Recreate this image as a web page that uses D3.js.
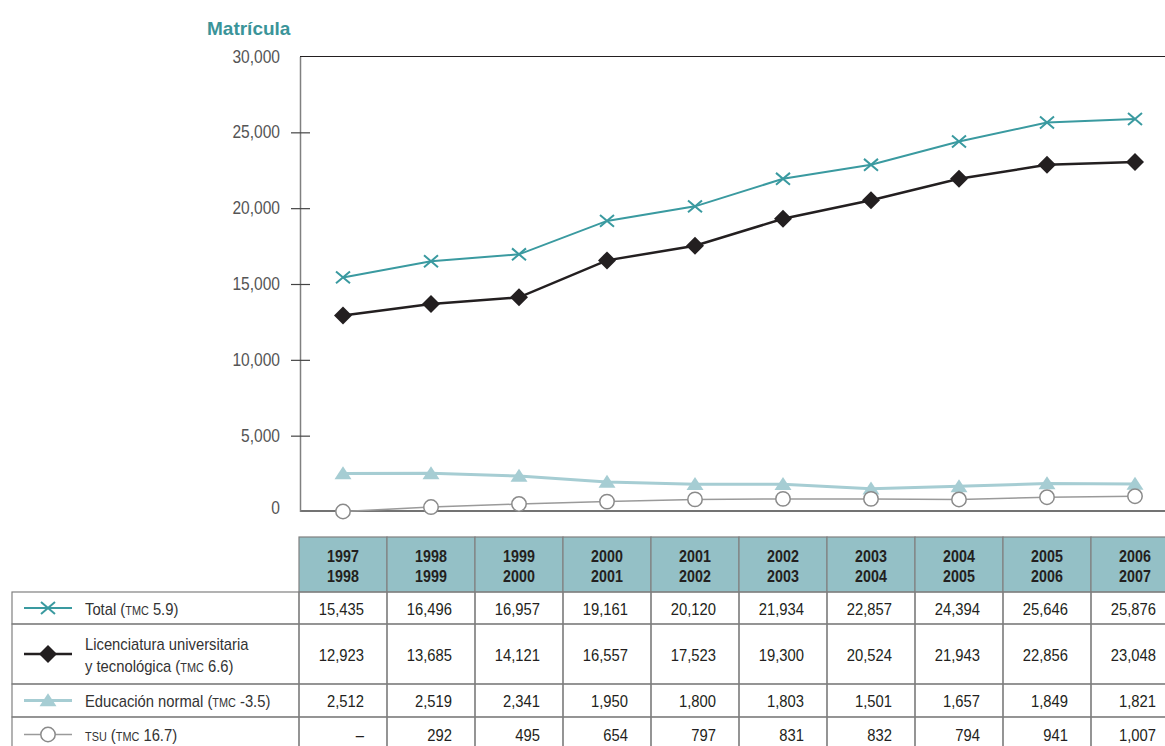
<!DOCTYPE html>
<html>
<head>
<meta charset="utf-8">
<script src="https://cdn.jsdelivr.net/npm/d3@7"></script>
<style>
  html, body { margin: 0; padding: 0; background: #fff; }
  svg { display: block; }
  text { font-family: "Liberation Sans", Arial, Helvetica, sans-serif; }
</style>
</head>
<body>
<svg id="chart" width="1165" height="746"></svg>
<script>
// School years shown on the horizontal axis / table header
const periods = ["1997-1998","1998-1999","1999-2000","2000-2001","2001-2002",
                 "2002-2003","2003-2004","2004-2005","2005-2006","2006-2007"];

// Enrolment by level
const total        = [15435, 16496, 16957, 19161, 20120, 21934, 22857, 24394, 25646, 25876];
const licenciatura = [12923, 13685, 14121, 16557, 17523, 19300, 20524, 21943, 22856, 23048];
const normal       = [2512, 2519, 2341, 1950, 1800, 1803, 1501, 1657, 1849, 1821];
const tsu          = [null, 292, 495, 654, 797, 831, 832, 794, 941, 1007];

const yTicks = [0, 5000, 10000, 15000, 20000, 25000, 30000];

const series = [
  { key: "total", values: total, labelLines: [["Total (", ["TMC"], " 5.9)"]],
    color: "#3a9aa0", width: 2, marker: "cross" },
  { key: "lic", values: licenciatura,
    labelLines: [["Licenciatura universitaria"], ["y tecnológica (", ["TMC"], " 6.6)"]],
    color: "#231f20", width: 2.5, marker: "diamond" },
  { key: "normal", values: normal, labelLines: [["Educación normal (", ["TMC"], " -3.5)"]],
    color: "#a6cdd3", width: 3, marker: "triangle" },
  { key: "tsu", values: tsu, labelLines: [[["TSU"], " (", ["TMC"], " 16.7)"]],
    color: "#9a9a9a", width: 1.5, marker: "circle" }
];

const svg = d3.select("#chart");
const fmt = d3.format(",");
const NARROW = 0.87;   // horizontal squeeze for the condensed typeface look

const x = d3.scaleBand().domain(periods).range([299, 299 + 88 * periods.length]).padding(0);
const y = d3.scaleLinear().domain([0, 30000]).range([511.5, 56.5]);
const cx = d => x(d) + x.bandwidth() / 2;

const plotLeft = 300, plotRight = 1165;

// Text placed in a horizontally condensed group
function narrowText(parent, tx, ty, opts = {}) {
  const g = parent.append("g")
    .attr("transform", `translate(${tx},${ty}) scale(${opts.squeeze ?? NARROW},1)`);
  return g.append("text").attr("x", 0).attr("y", 0)
    .attr("text-anchor", opts.anchor ?? "start")
    .attr("font-size", opts.size ?? 17)
    .attr("font-weight", opts.weight ?? "normal")
    .attr("fill", opts.fill ?? "#231f20");
}

// Title
svg.append("text")
  .attr("x", 207).attr("y", 35)
  .attr("font-size", 19).attr("font-weight", "bold")
  .attr("fill", "#3a9499")
  .text("Matrícula");

// Frame: top rule and base line
svg.append("line").attr("x1", plotLeft).attr("x2", plotRight)
  .attr("y1", y(30000)).attr("y2", y(30000))
  .attr("stroke", "#231f20").attr("stroke-width", 1);
svg.append("line").attr("x1", plotLeft).attr("x2", plotRight)
  .attr("y1", y(0) - 0.5).attr("y2", y(0) - 0.5)
  .attr("stroke", "#444").attr("stroke-width", 1.5);

// Y axis built with d3.axisLeft; ticks cross the axis line
const yAxis = d3.axisLeft(y).tickValues(yTicks).tickFormat(fmt).tickSize(0).tickPadding(20);
const gy = svg.append("g").attr("transform", `translate(${plotLeft},0)`).call(yAxis);
gy.select(".domain").attr("stroke", "#808080").attr("stroke-width", 1.5);
gy.selectAll(".tick text")
  .attr("fill", "#555").attr("font-size", 17.5)
  .style("font-family", "'Liberation Sans', Arial, sans-serif")
  .attr("x", -20 / 0.89)
  .attr("transform", "scale(0.89,1)");
gy.selectAll(".tick").filter(d => d > 0 && d < 30000)
  .append("line").attr("x1", -9).attr("x2", 10)
  .attr("stroke", "#444").attr("stroke-width", 1.2);
gy.selectAll(".tick").filter(d => d === 0).select("text").attr("dy", "0.1em");

// Markers
function drawMarker(g, type, color, px, py) {
  if (type === "cross") {
    const s = 7;
    g.append("path")
      .attr("d", `M${px - s},${py - s * 0.85}L${px + s},${py + s * 0.85}M${px - s},${py + s * 0.85}L${px + s},${py - s * 0.85}`)
      .attr("stroke", color).attr("stroke-width", 2).attr("fill", "none");
  } else if (type === "diamond") {
    const s = 9;
    g.append("path")
      .attr("d", `M${px},${py - s}L${px + s},${py}L${px},${py + s}L${px - s},${py}Z`)
      .attr("fill", color);
  } else if (type === "triangle") {
    const w = 8.5, h = 13;
    g.append("path")
      .attr("d", `M${px},${py - h * 0.55}L${px + w},${py + h * 0.45}L${px - w},${py + h * 0.45}Z`)
      .attr("fill", color);
  } else if (type === "circle") {
    g.append("circle").attr("cx", px).attr("cy", py).attr("r", 7.2)
      .attr("fill", "#fff").attr("stroke", "#8a8a8a").attr("stroke-width", 1.5);
  }
}

// Lines, drawn back to front
const drawOrder = ["normal", "tsu", "lic", "total"];
drawOrder.forEach(k => {
  const s = series.find(d => d.key === k);
  const pts = periods.map((p, i) => [cx(p), y(s.values[i] ?? 0)]);
  const g = svg.append("g");
  g.append("path")
    .attr("d", d3.line()(pts))
    .attr("fill", "none").attr("stroke", s.color).attr("stroke-width", s.width);
  pts.forEach(([px, py]) => drawMarker(g, s.marker, s.color, px, py));
});

// Data table
const headerTop = 537, headerBottom = 592;
const rowEdges = [592, 624, 684, 717, 752];
const border = "#808080";

const tg = svg.append("g");
periods.forEach(p => {
  tg.append("rect").attr("x", x(p)).attr("y", headerTop)
    .attr("width", x.bandwidth()).attr("height", headerBottom - headerTop)
    .attr("fill", "#94c0c6").attr("stroke", border).attr("stroke-width", 1.2);
  p.split("-").forEach((t, j) => {
    narrowText(tg, cx(p), 562 + j * 20, { anchor: "middle", size: 17, weight: "bold", squeeze: 0.84 })
      .text(t);
  });
});

series.forEach((s, r) => {
  const top = rowEdges[r], bot = rowEdges[r + 1], mid = (top + bot) / 2;
  // legend cell
  tg.append("rect").attr("x", 12).attr("y", top).attr("width", 299 - 12).attr("height", bot - top)
    .attr("fill", "none").attr("stroke", border).attr("stroke-width", 1.2);
  tg.append("line").attr("x1", 24).attr("x2", 72).attr("y1", mid).attr("y2", mid)
    .attr("stroke", s.color).attr("stroke-width", s.width);
  drawMarker(tg, s.marker, s.color, 48, mid);
  const nLines = s.labelLines.length;
  s.labelLines.forEach((parts, li) => {
    const base = mid + 6.5 + (li - (nLines - 1) / 2) * 22;
    const t = narrowText(tg, 85, base, { size: 17, fill: "#333" });
    parts.forEach(part => {
      if (Array.isArray(part)) t.append("tspan").attr("font-size", 12.5).text(part[0]);
      else t.append("tspan").text(part);
    });
  });
  // value cells
  periods.forEach((p, i) => {
    tg.append("rect").attr("x", x(p)).attr("y", top).attr("width", x.bandwidth()).attr("height", bot - top)
      .attr("fill", "none").attr("stroke", border).attr("stroke-width", 1.2);
    const v = s.values[i];
    narrowText(tg, x(p) + x.bandwidth() - 23, mid + 6.5, { anchor: "end", size: 17 })
      .text(v == null ? "–" : fmt(v));
  });
});
</script>
</body>
</html>
